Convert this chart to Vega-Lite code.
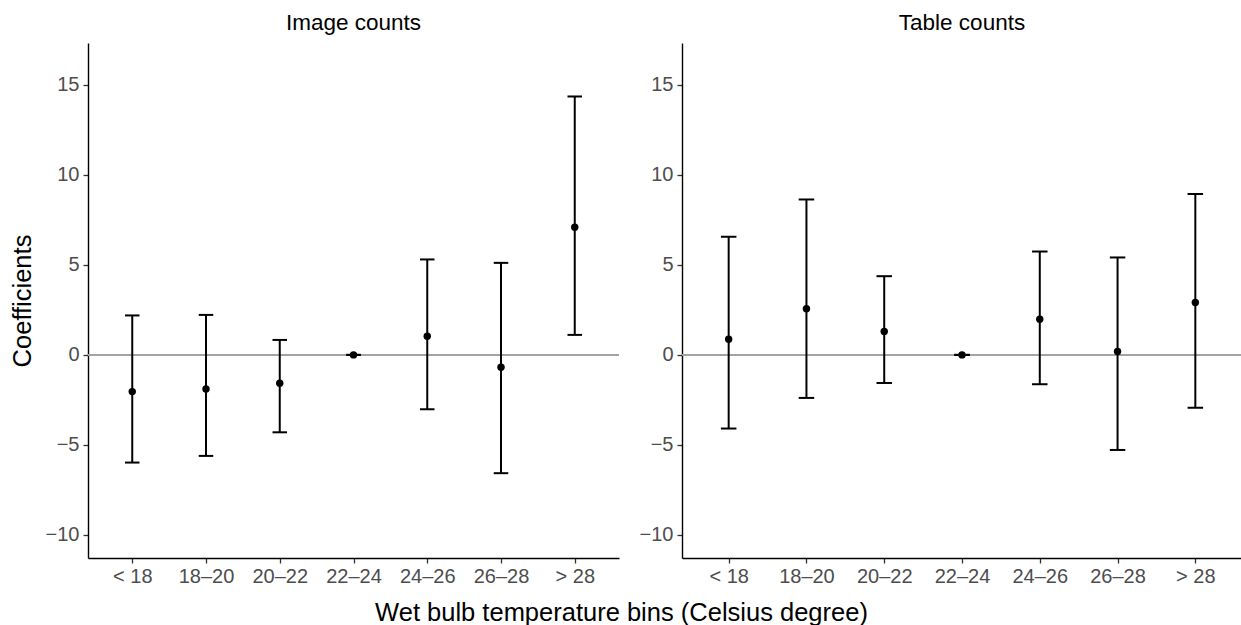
{
  "$schema": "https://vega.github.io/schema/vega-lite/v6.json",
  "background": "white",
  "padding": {"left": 10, "top": 11, "right": 0, "bottom": 0},
  "bounds": "flush",
  "spacing": 63,
  "datasets": {
    "coef": [
      {"panel": "Image counts", "bin": "< 18", "estimate": -2.04, "lower": -5.98, "upper": 2.19},
      {"panel": "Image counts", "bin": "18–20", "estimate": -1.89, "lower": -5.61, "upper": 2.22},
      {"panel": "Image counts", "bin": "20–22", "estimate": -1.57, "lower": -4.30, "upper": 0.83},
      {"panel": "Image counts", "bin": "22–24", "estimate": 0, "lower": 0, "upper": 0},
      {"panel": "Image counts", "bin": "24–26", "estimate": 1.04, "lower": -3.02, "upper": 5.30},
      {"panel": "Image counts", "bin": "26–28", "estimate": -0.69, "lower": -6.57, "upper": 5.11},
      {"panel": "Image counts", "bin": "> 28", "estimate": 7.09, "lower": 1.11, "upper": 14.35},
      {"panel": "Table counts", "bin": "< 18", "estimate": 0.87, "lower": -4.09, "upper": 6.56},
      {"panel": "Table counts", "bin": "18–20", "estimate": 2.56, "lower": -2.39, "upper": 8.63},
      {"panel": "Table counts", "bin": "20–22", "estimate": 1.30, "lower": -1.56, "upper": 4.37},
      {"panel": "Table counts", "bin": "22–24", "estimate": 0, "lower": 0, "upper": 0},
      {"panel": "Table counts", "bin": "24–26", "estimate": 1.98, "lower": -1.63, "upper": 5.74},
      {"panel": "Table counts", "bin": "26–28", "estimate": 0.19, "lower": -5.28, "upper": 5.41},
      {"panel": "Table counts", "bin": "> 28", "estimate": 2.91, "lower": -2.94, "upper": 8.94}
    ]
  },
  "config": {
    "font": "Liberation Sans",
    "view": {"stroke": null},
    "axis": {
      "grid": false,
      "domainColor": "black",
      "domainWidth": 1.4,
      "tickColor": "#333333",
      "tickWidth": 1.3,
      "tickSize": 5,
      "labelColor": "#4D4D4D",
      "labelFont": "Liberation Sans",
      "labelFontSize": 20,
      "titleFont": "Liberation Sans",
      "titleFontSize": 25.5,
      "titleFontWeight": "normal",
      "titleColor": "black"
    },
    "title": {"font": "Liberation Sans", "fontSize": 22.5, "fontWeight": "normal", "color": "black", "anchor": "middle"}
  },
  "hconcat": [
    {
      "width": 531,
      "height": 515,
      "title": {"text": "Image counts", "offset": -9, "baseline": "alphabetic"},
      "data": {"name": "coef"},
      "transform": [{"filter": "datum.panel === 'Image counts'"}],
      "layer": [
        {
          "mark": {"type": "rule", "color": "#A3A3A3", "strokeWidth": 1.8},
          "encoding": {
            "y": {"datum": 0, "type": "quantitative", "scale": {"domain": [-11.28, 17.32], "nice": false, "zero": false}}
          }
        },
        {
          "encoding": {
            "x": {
              "field": "bin", "type": "ordinal",
              "sort": ["< 18", "18–20", "20–22", "22–24", "24–26", "26–28", "> 28"],
              "scale": {"type": "point", "padding": 0.6},
              "axis": {"title": "Wet bulb temperature bins (Celsius degree)", "labelAngle": 0, "labelPadding": 3, "titleX": 533, "titleY": 62, "titleBaseline": "alphabetic"}
            }
          },
          "layer": [
            {
              "mark": {"type": "rule", "color": "black", "strokeWidth": 2},
              "encoding": {
                "y": {"field": "lower", "type": "quantitative", "axis": {"title": "Coefficients", "values": [-10, -5, 0, 5, 10, 15], "labelPadding": 4, "titlePadding": 10}},
                "y2": {"field": "upper"}
              }
            },
            {
              "mark": {"type": "tick", "orient": "horizontal", "size": 14.5, "thickness": 2, "color": "black", "opacity": 1},
              "encoding": {"y": {"field": "lower", "type": "quantitative"}}
            },
            {
              "mark": {"type": "tick", "orient": "horizontal", "size": 14.5, "thickness": 2, "color": "black", "opacity": 1},
              "encoding": {"y": {"field": "upper", "type": "quantitative"}}
            },
            {
              "mark": {"type": "point", "filled": true, "color": "black", "opacity": 1, "size": 55},
              "encoding": {"y": {"field": "estimate", "type": "quantitative"}}
            }
          ]
        }
      ]
    },
    {
      "width": 560,
      "height": 515,
      "title": {"text": "Table counts", "offset": -9, "baseline": "alphabetic"},
      "data": {"name": "coef"},
      "transform": [{"filter": "datum.panel === 'Table counts'"}],
      "layer": [
        {
          "mark": {"type": "rule", "color": "#A3A3A3", "strokeWidth": 1.8},
          "encoding": {
            "y": {"datum": 0, "type": "quantitative", "scale": {"domain": [-11.28, 17.32], "nice": false, "zero": false}}
          }
        },
        {
          "encoding": {
            "x": {
              "field": "bin", "type": "ordinal",
              "sort": ["< 18", "18–20", "20–22", "22–24", "24–26", "26–28", "> 28"],
              "scale": {"type": "point", "padding": 0.6},
              "axis": {"title": null, "labelAngle": 0, "labelPadding": 3}
            }
          },
          "layer": [
            {
              "mark": {"type": "rule", "color": "black", "strokeWidth": 2},
              "encoding": {
                "y": {"field": "lower", "type": "quantitative", "axis": {"title": null, "values": [-10, -5, 0, 5, 10, 15], "labelPadding": 4}},
                "y2": {"field": "upper"}
              }
            },
            {
              "mark": {"type": "tick", "orient": "horizontal", "size": 15.5, "thickness": 2, "color": "black", "opacity": 1},
              "encoding": {"y": {"field": "lower", "type": "quantitative"}}
            },
            {
              "mark": {"type": "tick", "orient": "horizontal", "size": 15.5, "thickness": 2, "color": "black", "opacity": 1},
              "encoding": {"y": {"field": "upper", "type": "quantitative"}}
            },
            {
              "mark": {"type": "point", "filled": true, "color": "black", "opacity": 1, "size": 55},
              "encoding": {"y": {"field": "estimate", "type": "quantitative"}}
            }
          ]
        }
      ]
    }
  ]
}
